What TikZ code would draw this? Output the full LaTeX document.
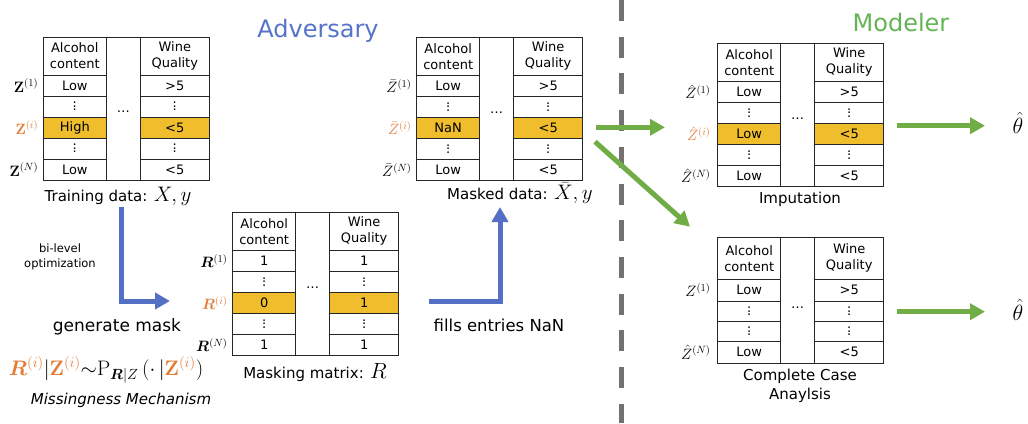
\RequirePackage{fix-cm}
\documentclass[tikz,border=0pt]{standalone}
\usepackage[no-math]{fontspec}
\setmainfont{DejaVu Sans}
\usepackage{amsmath,bm}
\usetikzlibrary{arrows.meta}
\definecolor{hlc}{RGB}{240,190,45}
\definecolor{orng}{RGB}{226,125,55}
\definecolor{bluA}{RGB}{84,112,196}
\definecolor{grnA}{RGB}{112,173,71}
\definecolor{advblue}{RGB}{85,115,200}
\definecolor{modgreen}{RGB}{100,180,85}
\definecolor{dashgray}{RGB}{118,113,113}
\newcommand{\vd}{\vbox{\baselineskip3.6pt\lineskiplimit0pt\hbox{.}\hbox{.}\hbox{.}}}
\tikzset{
 cellline/.style={draw=black!85, line width=0.9pt},
 hlfill/.style={fill=hlc},
 celltxt/.style={font=\fontsize{13}{16}\selectfont, inner sep=0pt, align=center},
 dotstxt/.style={font=\fontsize{13}{16}\selectfont, inner sep=0pt},
 rowlbl/.style={font=\fontsize{15}{17}\selectfont, anchor=east, inner sep=0pt},
 lbl/.style={font=\fontsize{15}{18}\selectfont, inner sep=0pt, align=center},
 barrow/.style={draw=bluA, line width=5pt, -{Triangle[length=15pt,width=16pt]}},
 garrow/.style={draw=grnA, line width=5pt, -{Triangle[length=15pt,width=16pt]}},
}
% #1 prefix, #2 x, #3 y, #4 r1c1, #5 r1c3, #6 r3c1, #7 r3c3, #8 r5c1, #9 r5c3
\newcommand{\wtab}[9]{%
\begin{scope}[shift={(#2,#3)}]
 \fill[hlfill] (0,80) rectangle (63,101);
 \fill[hlfill] (97,80) rectangle (166,101);
 \foreach \yy in {38,59,80,101,122} {\draw[cellline] (0,\yy) -- (63,\yy); \draw[cellline] (97,\yy) -- (166,\yy);}
 \draw[cellline] (0,0) rectangle (166,143);
 \draw[cellline] (63,0) -- (63,143);
 \draw[cellline] (97,0) -- (97,143);
 \node[celltxt] (#1-h1) at (31.5,19) {Alcohol\\content};
 \node[celltxt] (#1-h3) at (131.5,19) {Wine\\Quality};
 \node[celltxt] (#1-mid) at (80,75) {\dots};
 \node[celltxt] (#1-r1a) at (31.5,48.5) {#4};
 \node[celltxt] (#1-r1b) at (131.5,48.5) {#5};
 \node[dotstxt] (#1-r2a) at (31.5,69.5) {\vd};
 \node[dotstxt] (#1-r2b) at (131.5,69.5) {\vd};
 \node[celltxt] (#1-r3a) at (31.5,90.5) {#6};
 \node[celltxt] (#1-r3b) at (131.5,90.5) {#7};
 \node[dotstxt] (#1-r4a) at (31.5,111.5) {\vd};
 \node[dotstxt] (#1-r4b) at (131.5,111.5) {\vd};
 \node[celltxt] (#1-r5a) at (31.5,132.5) {#8};
 \node[celltxt] (#1-r5b) at (131.5,132.5) {#9};
 \coordinate (#1-L1) at (-5,48.5);
 \coordinate (#1-Li) at (-5,90.5);
 \coordinate (#1-LN) at (-5,132.5);
\end{scope}}
\begin{document}
\begin{tikzpicture}[x=1pt,y=-1pt]
\useasboundingbox (0,0) rectangle (1028,423);
% divider
\coordinate (dtop) at (621,0);
\coordinate (dbot) at (621,423);
\draw[dashgray, line width=5pt, dash pattern=on 21pt off 15.7pt] (dtop) -- (dbot);
% titles
\node[font=\fontsize{24}{28}\selectfont, text=advblue] (adv) at (318,31) {Adversary};
\node[font=\fontsize{24}{28}\selectfont, text=modgreen] (mod) at (901,23) {Modeler};
% tables
\wtab{T1}{43.3}{37}{Low}{>5}{High}{<5}{Low}{<5}
\wtab{T2}{232.7}{212.3}{1}{1}{0}{1}{1}{1}
\wtab{T3}{416.7}{37.3}{Low}{>5}{NaN}{<5}{Low}{<5}
\wtab{T4}{717.7}{43.3}{Low}{>5}{Low}{<5}{Low}{<5}
% row labels
\node[rowlbl] (T1l1) at (T1-L1) {$\mathbf{Z}^{(1)}$};
\node[rowlbl, text=orng] (T1li) at (T1-Li) {$\mathbf{Z}^{(i)}$};
\node[rowlbl] (T1lN) at (T1-LN) {$\mathbf{Z}^{(N)}$};
\node[rowlbl] (T2l1) at (T2-L1) {$\bm{R}^{(1)}$};
\node[rowlbl, text=orng] (T2li) at (T2-Li) {$\bm{R}^{(i)}$};
\node[rowlbl] (T2lN) at (T2-LN) {$\bm{R}^{(N)}$};
\node[rowlbl] (T3l1) at (T3-L1) {$\bar{Z}^{(1)}$};
\node[rowlbl, text=orng] (T3li) at (T3-Li) {$\bar{Z}^{(i)}$};
\node[rowlbl] (T3lN) at (T3-LN) {$\bar{Z}^{(N)}$};
\node[rowlbl] (T4l1) at ([xshift=-2pt]T4-L1) {$\hat{Z}^{(1)}$};
\node[rowlbl, text=orng] (T4li) at ([xshift=-2pt]T4-Li) {$\hat{Z}^{(i)}$};
\node[rowlbl] (T4lN) at ([xshift=-2pt]T4-LN) {$\hat{Z}^{(N)}$};
% table 5 (complete case)
\begin{scope}[shift={(717.7,237.3)}]
 \foreach \yy in {42,64,84,104} {\draw[cellline] (0,\yy) -- (63,\yy); \draw[cellline] (97,\yy) -- (166,\yy);}
 \draw[cellline] (0,0) rectangle (166,126);
 \draw[cellline] (63,0) -- (63,126);
 \draw[cellline] (97,0) -- (97,126);
 \node[celltxt] (T5-h1) at (31.5,21) {Alcohol\\content};
 \node[celltxt] (T5-h3) at (131.5,21) {Wine\\Quality};
 \node[celltxt] (T5-mid) at (80,70) {\dots};
 \node[celltxt] (T5-r1a) at (31.5,53) {Low};
 \node[celltxt] (T5-r1b) at (131.5,53) {>5};
 \node[dotstxt] (T5-r2a) at (31.5,74) {\vd};
 \node[dotstxt] (T5-r2b) at (131.5,74) {\vd};
 \node[dotstxt] (T5-r3a) at (31.5,94) {\vd};
 \node[dotstxt] (T5-r3b) at (131.5,94) {\vd};
 \node[celltxt] (T5-r4a) at (31.5,115) {Low};
 \node[celltxt] (T5-r4b) at (131.5,115) {<5};
 \node[rowlbl] (T5l1) at (-7,53) {$Z^{(1)}$};
 \node[rowlbl] (T5lN) at (-7,115) {$\hat{Z}^{(N)}$};
\end{scope}
% captions
\node[lbl] (trainlbl) at (118,196) {Training data: {\fontsize{21}{24}\selectfont$X, y$}};
\node[lbl] (maskedlbl) at (520,193) {Masked data: {\fontsize{21}{24}\selectfont$\bar{X}, y$}};
\node[lbl] (rlbl) at (315,373) {Masking matrix: {\fontsize{22}{24}\selectfont$R$}};
\node[lbl] (implbl) at (800,199) {Imputation};
\node[lbl, font=\fontsize{15}{18.5}\selectfont] (ccalbl) at (800,386) {Complete Case\\Anaylsis};
\node[lbl, font=\fontsize{11.5}{14.5}\selectfont] (bilevel) at (60,257) {bi-level\\optimization};
\node[lbl, font=\fontsize{17}{20}\selectfont] (genmask) at (117,327) {generate mask};
\node[lbl, font=\fontsize{16.5}{20}\selectfont] (fills) at (499,325) {fills entries NaN};
\node[lbl, font=\fontsize{21}{24}\selectfont] (formula) at (106,370) {$\textcolor{orng}{\bm{R}^{(i)}}|\textcolor{orng}{\mathbf{Z}^{(i)}}{\sim}\mathrm{P}_{\bm{R}|Z}\,(\cdot\,|\textcolor{orng}{\mathbf{Z}^{(i)}})$};
\node[lbl, font=\fontsize{15}{18}\selectfont\itshape] (mech) at (121,400) {Missingness Mechanism};
\node[font=\fontsize{22}{24}\selectfont, inner sep=0pt] (th1) at (1018,123) {$\hat{\theta}$};
\node[font=\fontsize{22}{24}\selectfont, inner sep=0pt] (th2) at (1018,310) {$\hat{\theta}$};
% arrows
\coordinate (ba1s) at (121.7,207);
\coordinate (ba1e) at (170,301);
\draw[barrow] (ba1s) |- (ba1e);
\coordinate (bb1s) at (429,301.7);
\coordinate (bb1e) at (500,207);
\draw[barrow] (bb1s) -| (bb1e);
\coordinate (g1s) at (596,127.3);
\coordinate (g1e) at (665,127.3);
\draw[garrow] (g1s) -- (g1e);
\coordinate (g2s) at (595,141.7);
\coordinate (g2e) at (690,226.7);
\draw[garrow] (g2s) -- (g2e);
\coordinate (g3s) at (896.7,125.7);
\coordinate (g3e) at (985,125.7);
\draw[garrow] (g3s) -- (g3e);
\coordinate (g4s) at (896.7,311.7);
\coordinate (g4e) at (985,311.7);
\draw[garrow] (g4s) -- (g4e);
\end{tikzpicture}
\end{document}
